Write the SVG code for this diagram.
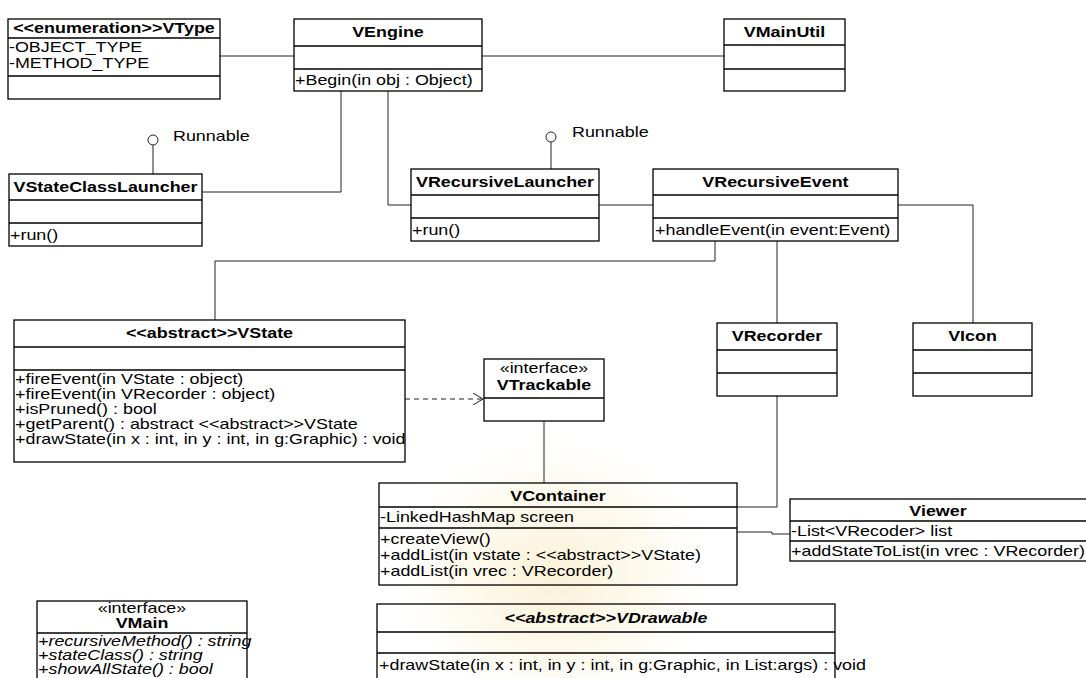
<svg xmlns="http://www.w3.org/2000/svg" width="1086" height="678" viewBox="0 0 1086 678">
  <style>
    text { font-family: "Liberation Sans", Arial, sans-serif; font-size: 14px; fill: #000; transform-box: fill-box; transform: scaleX(1.28); }
    .l { transform-origin: left center; }
    .c { text-anchor: middle; transform-origin: center; }
    .b { font-weight: bold; }
    .i { font-style: italic; }
    .box { fill: none; stroke: #000; stroke-width: 1.3; }
    .sep { stroke: #000; stroke-width: 1.3; }
    .wire { fill: none; stroke: #222; stroke-width: 1; }
    .dash { fill: none; stroke: #222; stroke-width: 1; stroke-dasharray: 5 4; }
    .ball { fill: #fff; stroke: #222; stroke-width: 1; }
  </style>
  <defs>
    <marker id="open" viewBox="0 0 12 12" refX="11" refY="6" markerWidth="12" markerHeight="12" markerUnits="userSpaceOnUse" orient="auto">
      <path d="M1,0 L11,6 L1,12" fill="none" stroke="#222" stroke-width="1"/>
    </marker>
    <radialGradient id="seal" cx="0.5" cy="0.5" r="0.5">
      <stop offset="0" stop-color="#f6e7b4" stop-opacity="0.55"/>
      <stop offset="0.6" stop-color="#f9efcc" stop-opacity="0.3"/>
      <stop offset="1" stop-color="#ffffff" stop-opacity="0"/>
    </radialGradient>
  </defs>

  <rect width="1086" height="678" fill="#fff"/>
  <!-- faint seal in the background -->
  <ellipse cx="555" cy="575" rx="170" ry="150" fill="url(#seal)"/>

  <!-- connectors -->
  <g id="connectors">
    <path class="wire" d="M220,56 H294"/>
    <path class="wire" d="M482,56 H724"/>
    <path class="wire" d="M341,91 V192 H202"/>
    <path class="wire" d="M388,91 V205 H411"/>
    <path class="wire" d="M599,205 H653"/>
    <path class="wire" d="M898,205 H973 V323"/>
    <path class="wire" d="M715,241 V261 H215 V320"/>
    <path class="wire" d="M777,241 V323"/>
    <path class="wire" d="M777,396 V507 H737"/>
    <path class="wire" d="M544,421 V483"/>
    <path class="wire" d="M737,532 H772 V534 H790"/>
    <path class="dash" d="M405,399 H483" marker-end="url(#open)"/>
    <!-- provided interfaces -->
    <path class="wire" d="M153,145 V174"/>
    <circle class="ball" cx="153" cy="140" r="5"/>
    <text class="l" x="173" y="141">Runnable</text>
    <path class="wire" d="M551,142 V169"/>
    <circle class="ball" cx="551" cy="137" r="5"/>
    <text class="l" x="572" y="137">Runnable</text>
  </g>

  <g id="VType">
    <rect class="box" x="8" y="19" width="212" height="80"/>
    <path class="sep" d="M8,38 H220 M8,76 H220"/>
    <text class="c b" x="114" y="33">&lt;&lt;enumeration&gt;&gt;VType</text>
    <text class="l" x="9" y="52">-OBJECT_TYPE</text>
    <text class="l" x="9" y="68">-METHOD_TYPE</text>
  </g>

  <g id="VEngine">
    <rect class="box" x="294" y="19" width="188" height="72"/>
    <path class="sep" d="M294,46 H482 M294,69 H482"/>
    <text class="c b" x="388" y="37">VEngine</text>
    <text class="l" x="295" y="85">+Begin(in obj : Object)</text>
  </g>

  <g id="VMainUtil">
    <rect class="box" x="724" y="19" width="121" height="72"/>
    <path class="sep" d="M724,45 H845 M724,69 H845"/>
    <text class="c b" x="784.5" y="37">VMainUtil</text>
  </g>

  <g id="VStateClassLauncher">
    <rect class="box" x="9" y="174" width="193" height="72"/>
    <path class="sep" d="M9,200 H202 M9,223 H202"/>
    <text class="c b" x="105.5" y="192">VStateClassLauncher</text>
    <text class="l" x="10" y="240">+run()</text>
  </g>

  <g id="VRecursiveLauncher">
    <rect class="box" x="411" y="169" width="188" height="72"/>
    <path class="sep" d="M411,195 H599 M411,218 H599"/>
    <text class="c b" x="505" y="187">VRecursiveLauncher</text>
    <text class="l" x="412" y="235">+run()</text>
  </g>

  <g id="VRecursiveEvent">
    <rect class="box" x="653" y="169" width="245" height="72"/>
    <path class="sep" d="M653,195 H898 M653,218 H898"/>
    <text class="c b" x="775.5" y="187">VRecursiveEvent</text>
    <text class="l" x="655" y="235">+handleEvent(in event:Event)</text>
  </g>

  <g id="VState">
    <rect class="box" x="14" y="320" width="391" height="142"/>
    <path class="sep" d="M14,347 H405 M14,370 H405"/>
    <text class="c b" x="209.5" y="338">&lt;&lt;abstract&gt;&gt;VState</text>
    <text class="l" x="15" y="384">+fireEvent(in VState : object)</text>
    <text class="l" x="15" y="399">+fireEvent(in VRecorder : object)</text>
    <text class="l" x="15" y="414">+isPruned() : bool</text>
    <text class="l" x="15" y="429">+getParent() : abstract &lt;&lt;abstract&gt;&gt;VState</text>
    <text class="l" x="15" y="444">+drawState(in x : int, in y : int, in g:Graphic) : void</text>
  </g>

  <g id="VTrackable">
    <rect class="box" x="484" y="359" width="120" height="62"/>
    <path class="sep" d="M484,398 H604"/>
    <text class="c" x="544" y="373">«interface»</text>
    <text class="c b" x="544" y="390">VTrackable</text>
  </g>

  <g id="VRecorder">
    <rect class="box" x="717" y="323" width="120" height="73"/>
    <path class="sep" d="M717,350 H837 M717,373 H837"/>
    <text class="c b" x="777" y="341">VRecorder</text>
  </g>

  <g id="VIcon">
    <rect class="box" x="913" y="323" width="119" height="73"/>
    <path class="sep" d="M913,350 H1032 M913,373 H1032"/>
    <text class="c b" x="972.5" y="341">VIcon</text>
  </g>

  <g id="VContainer">
    <rect class="box" x="379" y="483" width="358" height="102"/>
    <path class="sep" d="M379,507 H737 M379,528 H737"/>
    <text class="c b" x="558" y="501">VContainer</text>
    <text class="l" x="380" y="522">-LinkedHashMap screen</text>
    <text class="l" x="380" y="544">+createView()</text>
    <text class="l" x="380" y="560">+addList(in vstate : &lt;&lt;abstract&gt;&gt;VState)</text>
    <text class="l" x="380" y="576">+addList(in vrec : VRecorder)</text>
  </g>

  <g id="Viewer">
    <rect class="box" x="790" y="499" width="300" height="62"/>
    <path class="sep" d="M790,521 H1090 M790,541 H1090"/>
    <text class="c b" x="938" y="516">Viewer</text>
    <text class="l" x="791" y="536">-List&lt;VRecoder&gt; list</text>
    <text class="l" x="791" y="556">+addStateToList(in vrec : VRecorder)</text>
  </g>

  <g id="VMain">
    <rect class="box" x="37" y="601" width="210" height="90"/>
    <path class="sep" d="M37,633 H247"/>
    <text class="c" x="142" y="613">«interface»</text>
    <text class="c b" x="142" y="628">VMain</text>
    <text class="l i" x="38" y="646">+recursiveMethod() : string</text>
    <text class="l i" x="38" y="660">+stateClass() : string</text>
    <text class="l i" x="38" y="674">+showAllState() : bool</text>
  </g>

  <g id="VDrawable">
    <rect class="box" x="377" y="604" width="458" height="90"/>
    <path class="sep" d="M377,632 H835 M377,653 H835"/>
    <text class="c b i" x="606" y="623">&lt;&lt;abstract&gt;&gt;VDrawable</text>
    <text class="l" x="379" y="670">+drawState(in x : int, in y : int, in g:Graphic, in List:args) : void</text>
  </g>
</svg>
